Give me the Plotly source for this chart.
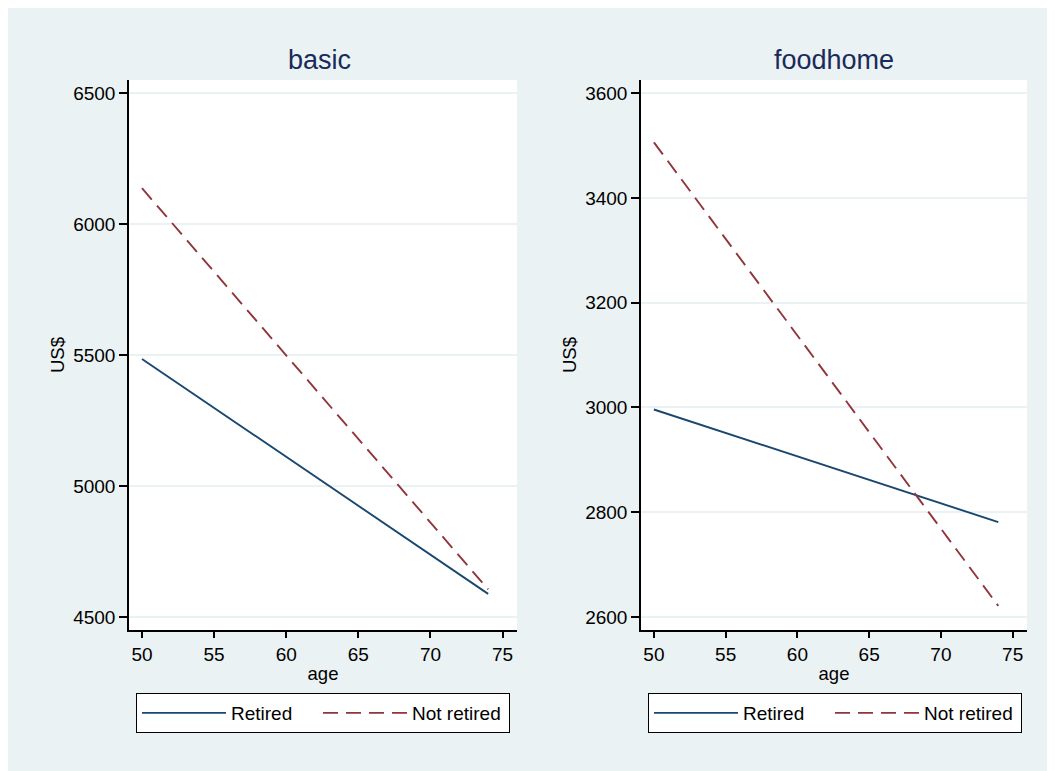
import plotly.graph_objects as go

# ---- data ----
ages = [50, 74]
basic_retired = [5485, 4588]
basic_not_retired = [6137, 4605]
food_retired = [2996, 2781]
food_not_retired = [3506, 2621]

basic_yticks = [4500, 5000, 5500, 6000, 6500]
food_yticks = [2600, 2800, 3000, 3200, 3400, 3600]
x_ticks = [50, 55, 60, 65, 70, 75]

W, H = 1047, 763
OFF = 8  # page body margin in the screenshot
BG = "#EAF2F3"
NAVY = "#1a476f"
MAROON = "#90353b"
FONT = "Liberation Sans, Arial, sans-serif"

def px_x(p):
    return (p - OFF) / W

def px_y(p):
    return 1 - (p - OFF) / H

fig = go.Figure()

fig.add_trace(go.Scatter(x=ages, y=basic_retired, mode="lines", name="Retired",
                         line=dict(color=NAVY, width=1.9), xaxis="x", yaxis="y", legend="legend"))
fig.add_trace(go.Scatter(x=ages, y=basic_not_retired, mode="lines", name="Not retired", legendwidth=92,
                         line=dict(color=MAROON, width=1.9, dash="15px,8px"), xaxis="x", yaxis="y", legend="legend"))
fig.add_trace(go.Scatter(x=ages, y=food_retired, mode="lines", name="Retired",
                         line=dict(color=NAVY, width=1.9), xaxis="x2", yaxis="y2", legend="legend2"))
fig.add_trace(go.Scatter(x=ages, y=food_not_retired, mode="lines", name="Not retired", legendwidth=92,
                         line=dict(color=MAROON, width=1.9, dash="15px,8px"), xaxis="x2", yaxis="y2", legend="legend2"))

common_x = dict(range=[49.1, 76.0], tickvals=x_ticks, showline=True, linecolor="black", linewidth=1.5,
                ticks="outside", ticklen=6, tickwidth=1.5, tickcolor="black", showgrid=False, zeroline=False,
                tickfont=dict(size=19, color="black"), title=dict(text="age", font=dict(size=18.5, color="black"), standoff=4))
common_y = dict(showline=True, linecolor="black", linewidth=1.5, ticks="outside", ticklen=8, tickwidth=1.5,
                tickcolor="black", showgrid=True, gridcolor=BG, gridwidth=1.5, zeroline=False,
                tickfont=dict(size=19, color="black"), title=dict(text="US$", font=dict(size=18.5, color="black"), standoff=4))

legend_common = dict(orientation="h", bordercolor="black", borderwidth=1, bgcolor="white",
                     font=dict(size=19, color="black", family=FONT), xanchor="center", yanchor="middle",
                     itemwidth=84, entrywidth=82, itemclick=False)

fig.update_layout(
    width=W, height=H,
    margin=dict(l=0, r=0, t=0, b=0),
    paper_bgcolor=BG, plot_bgcolor="white",
    font=dict(family=FONT, color="black"),
    xaxis=dict(domain=[px_x(129), px_x(517)], anchor="y", **common_x),
    yaxis=dict(domain=[px_y(630), px_y(80)], anchor="x", range=[4450, 6550], tickvals=basic_yticks, **common_y),
    xaxis2=dict(domain=[px_x(641), px_x(1027)], anchor="y2", **common_x),
    yaxis2=dict(domain=[px_y(630), px_y(80)], anchor="x2", range=[2575, 3625], tickvals=food_yticks, **common_y),
    legend=dict(x=px_x(323), y=px_y(713), **legend_common),
    legend2=dict(x=px_x(835), y=px_y(713), **legend_common),
    annotations=[
        dict(text="basic", x=px_x(319), y=px_y(60), xref="paper", yref="paper", showarrow=False,
             font=dict(size=27, color="#1a2a5a"), xanchor="center", yanchor="middle"),
        dict(text="foodhome", x=px_x(834), y=px_y(60), xref="paper", yref="paper", showarrow=False,
             font=dict(size=27, color="#1a2a5a"), xanchor="center", yanchor="middle"),
    ],
)

fig.write_html("out.html")
